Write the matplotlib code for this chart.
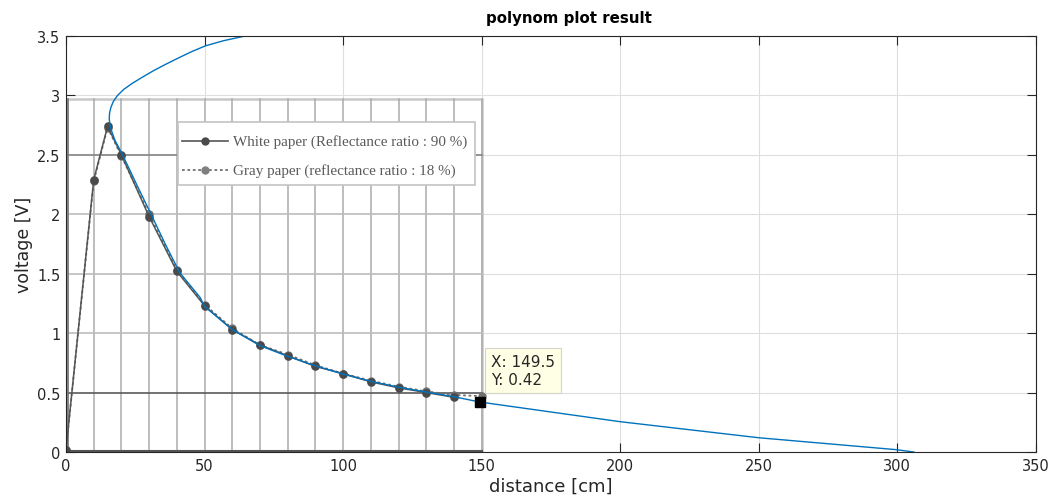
import matplotlib
matplotlib.use('Agg')
import matplotlib.pyplot as plt
from matplotlib.patches import Rectangle
import numpy as np

# polynomial fit curve (distance vs voltage)
fit_volt = [0.000, 0.020, 0.120, 0.255, 0.420, 0.465, 0.505, 0.545, 0.595, 0.655,
            0.725, 0.805, 0.895, 1.030, 1.225, 1.300, 1.510, 1.750, 1.990, 2.250,
            2.506, 2.620, 2.730, 2.800, 2.850, 2.900, 2.950, 3.000, 3.050, 3.100,
            3.150, 3.207, 3.260, 3.320, 3.370, 3.417, 3.460, 3.500]
fit_dist = [306.0, 299.5, 250.0, 200.0, 149.5, 140.0, 130.0, 120.0, 110.0, 100.0,
            90.0, 80.0, 70.0, 60.0, 50.0, 48.4, 41.0, 35.8, 30.9, 25.5,
            20.3, 17.7, 16.0, 15.6, 15.7, 16.2, 17.1, 18.6, 20.8, 23.8,
            27.3, 31.5, 35.8, 41.0, 45.5, 50.3, 56.8, 64.6]

# datasheet curves (embedded picture)
white_dist = [0, 10, 15, 20, 30, 40, 50, 60, 70, 80, 90, 100, 110, 120, 130, 140]
white_volt = [0.02, 2.29, 2.74, 2.50, 1.98, 1.52, 1.23, 1.03, 0.90, 0.81, 0.72,
              0.66, 0.59, 0.54, 0.50, 0.46]
gray_dist = [0, 10, 15, 20, 30, 40, 50, 60, 70, 80, 90, 100, 110, 120, 130, 140, 150]
gray_volt = [0.02, 2.28, 2.73, 2.49, 2.00, 1.53, 1.24, 1.04, 0.90, 0.82, 0.73,
             0.66, 0.60, 0.55, 0.51, 0.48, 0.47]

# datasheet picture grid
sheet_vlines = [10, 20, 30, 40, 50, 60, 70, 80, 90, 100, 110, 120, 130, 140, 150]
sheet_hlines_light = [1.0, 1.5, 2.0]
sheet_hlines_dark = [0.5, 2.5]
sheet_top = 2.97

# data tip
tip_x = 149.5
tip_y = 0.42

xticks = [0, 50, 100, 150, 200, 250, 300, 350]
yticks = [0, 0.5, 1, 1.5, 2, 2.5, 3, 3.5]

axcol = '#262626'
fig = plt.figure(figsize=(10.58, 5.02), dpi=100)
ax = fig.add_axes([0.0624, 0.0976, 0.9166, 0.8287])

ax.set_xlim(0, 350)
ax.set_ylim(0, 3.5)
ax.set_xticks(xticks)
ax.set_yticks(yticks)
ax.set_xticklabels([str(t) for t in xticks])
ax.set_yticklabels(['0', '0.5', '1', '1.5', '2', '2.5', '3', '3.5'])
ax.grid(True, color='#dedede', linewidth=0.8)
ax.set_axisbelow(True)
ax.tick_params(direction='in', length=6.5, width=0.8, top=True, right=True,
               labelsize=10.5, colors=axcol, pad=4)
for s in ax.spines.values():
    s.set_color(axcol)
    s.set_linewidth(0.8)
    s.set_zorder(10)

# embedded datasheet picture
ax.add_patch(Rectangle((0.5, 0), 149.5, sheet_top, facecolor='white',
                       edgecolor='#c8c8c8', linewidth=1.8, zorder=1.2))
for xv in sheet_vlines:
    ax.plot([xv, xv], [0, sheet_top], color='#ababab', lw=1.1, zorder=1.3)
for yv in sheet_hlines_light:
    ax.plot([0.5, 150], [yv, yv], color='#bcbcbc', lw=1.2, zorder=1.3)
ax.plot([0.5, 150], [sheet_hlines_dark[0]] * 2, color='#5a5a5a', lw=1.2, zorder=1.3)
ax.plot([0.5, 150], [sheet_hlines_dark[1]] * 2, color='#8a8a8a', lw=1.3, zorder=1.3)
ax.plot([0.5, 150], [0.01, 0.01], color='#555555', lw=1.5, zorder=1.3)
ax.plot([0.6, 0.6], [0, sheet_top], color='#777777', lw=1.2, zorder=1.3)

ax.plot(gray_dist, gray_volt, color='#707070', lw=1.3, ls=(0, (1.5, 1.5)),
        marker='o', ms=5, mfc='#707070', mec='#707070', zorder=1.5)
ax.plot(white_dist, white_volt, color='#555555', lw=1.1, marker='o', ms=5.2,
        mfc='#4a4a4a', mec='#4a4a4a', zorder=1.6)

# datasheet legend
ax.add_patch(Rectangle((40.3, 2.25), 107.3, 0.53, facecolor='white',
                       edgecolor='#c4c4c4', linewidth=1.2, zorder=1.7))
ax.plot([42, 58.5], [2.62, 2.62], color='#555555', lw=1.2, zorder=1.8)
ax.plot([50.2], [2.62], marker='o', ms=5, color='#4a4a4a', zorder=1.8)
ax.plot([42, 58.5], [2.37, 2.37], color='#707070', lw=1.3, ls=(0, (1.5, 1.5)), zorder=1.8)
ax.plot([50.2], [2.37], marker='o', ms=5, color='#808080', zorder=1.8)
ax.text(60.3, 2.62, 'White paper (Reflectance ratio : 90 %)', family='Liberation Serif',
        fontsize=10.9, color='#5a5a5a', va='center', ha='left', zorder=1.8)
ax.text(60.3, 2.37, 'Gray paper (reflectance ratio : 18 %)', family='Liberation Serif',
        fontsize=10.9, color='#5a5a5a', va='center', ha='left', zorder=1.8)

# polynomial curve
ax.plot(fit_dist, fit_volt, color='#0072BD', lw=1.0, zorder=3)

# data tip
ax.plot([tip_x], [tip_y], marker='s', ms=7, color='black', zorder=5)
ax.annotate('X: %.1f\nY: %.2f' % (tip_x, tip_y), xy=(tip_x, tip_y),
            xytext=(7.6, 10.7), textcoords='offset points', ha='left', va='bottom',
            fontsize=11, color=axcol, linespacing=1.3, zorder=6,
            bbox=dict(boxstyle='square,pad=0.38', facecolor='#ffffe6',
                      edgecolor='#d4d4c8', linewidth=0.8))

ax.set_xlabel('distance [cm]', fontsize=13, color=axcol, labelpad=3)
ax.set_ylabel('voltage [V]', fontsize=12.5, color=axcol, labelpad=3)
ax.set_title('polynom plot result', fontsize=10.8, fontweight='bold', color='black',
             pad=10, x=0.5186)

fig.savefig('out.png', dpi=100)
